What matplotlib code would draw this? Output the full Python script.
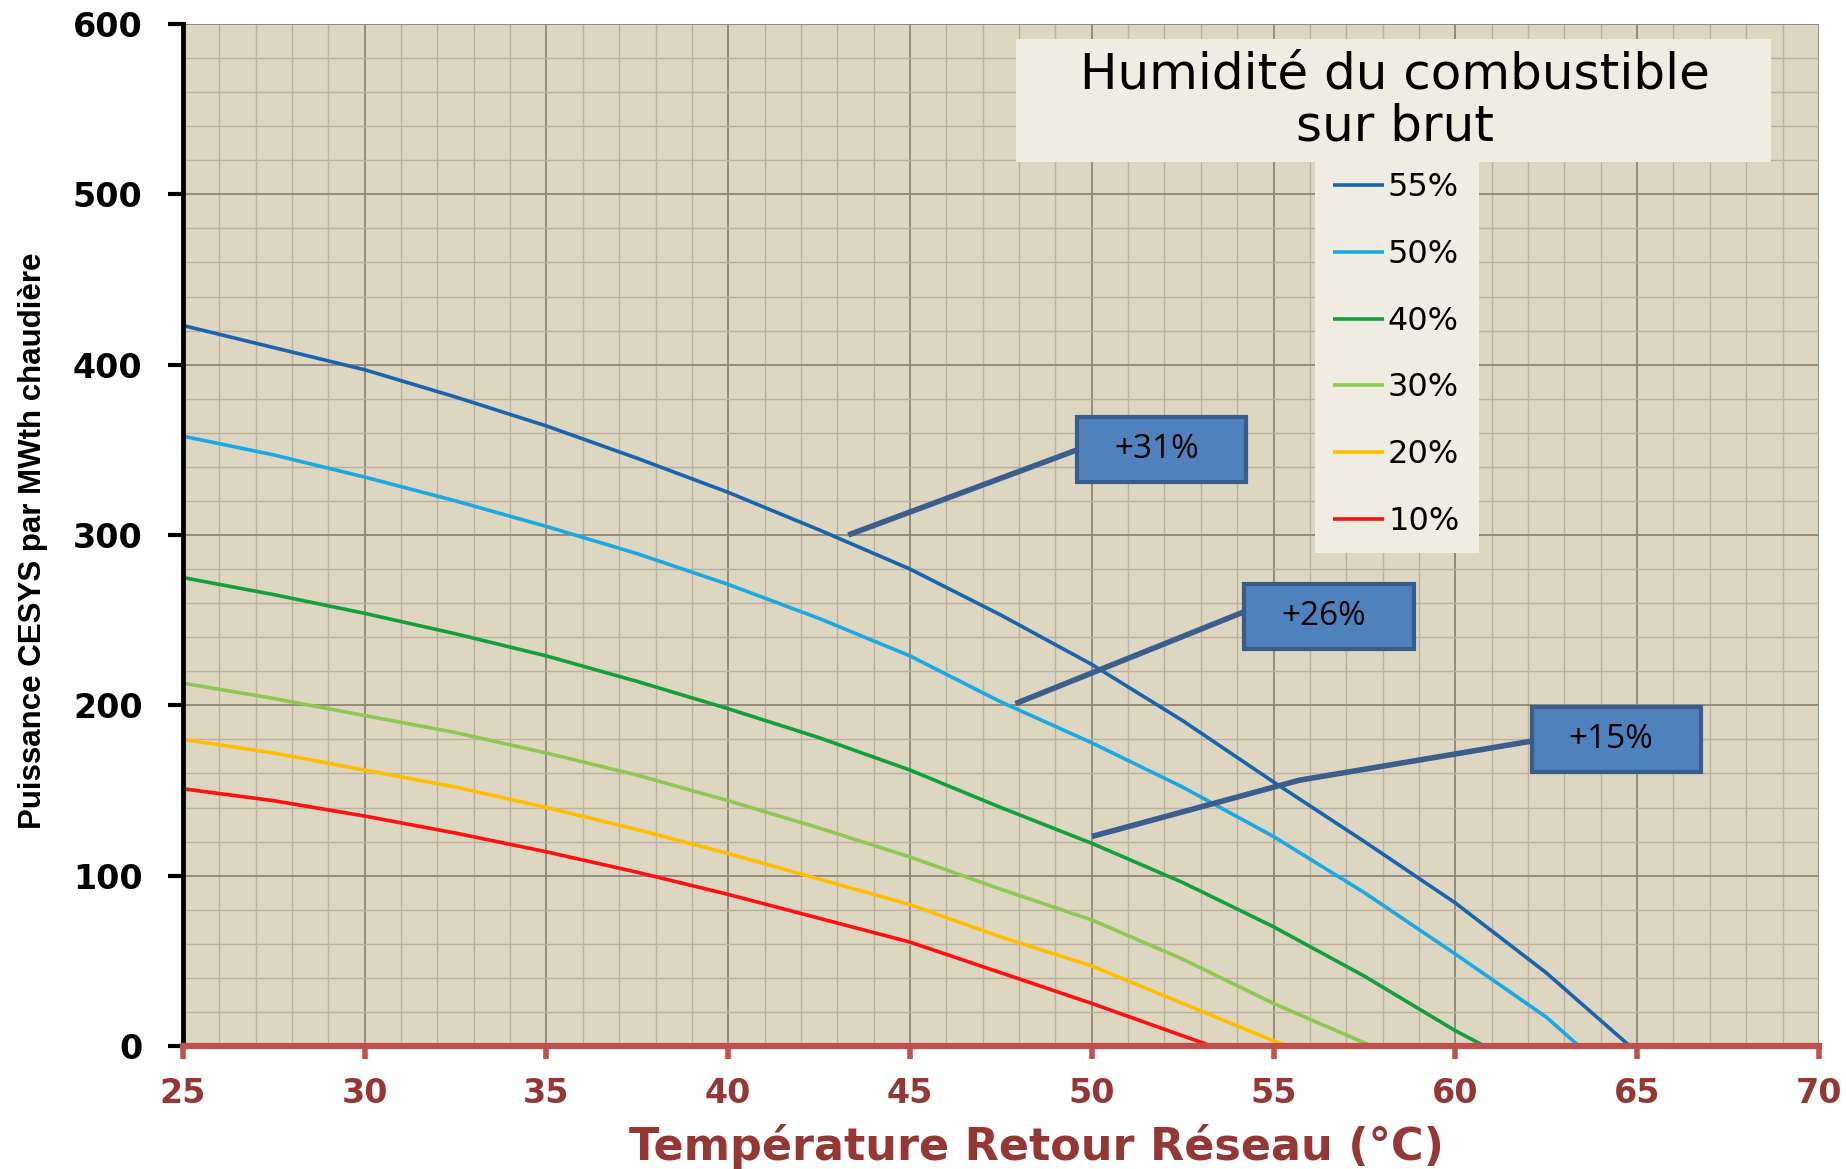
import matplotlib
matplotlib.use("Agg")
import matplotlib.pyplot as plt
from matplotlib.patches import Rectangle
from matplotlib.ticker import MultipleLocator
from matplotlib import font_manager

# humidity levels (legend labels) and curves
labels = ["55%", "50%", "40%", "30%", "20%", "10%"]
colors = ["#1A64AE", "#1BA9E3", "#12A03C", "#8DC853", "#FFBF00", "#FF1010"]

t_55 = [25, 27.5, 30, 32.5, 35, 37.5, 40, 42.5, 45, 47.5, 50, 52.5, 55, 57.5, 60, 62.5, 64.8]
p_55 = [423, 410, 397, 381, 364, 345, 325, 303, 280, 253, 224, 191, 155, 120, 84, 43, 0]

t_50 = [25, 27.5, 30, 32.5, 35, 37.5, 40, 42.5, 45, 47.5, 50, 52.5, 55, 57.5, 60, 62.5, 63.4]
p_50 = [358, 347, 334, 320, 305, 289, 271, 251, 229, 202, 178, 152, 123, 90, 54, 17, 0]

t_40 = [25, 27.5, 30, 32.5, 35, 37.5, 40, 42.5, 45, 47.5, 50, 52.5, 55, 57.5, 60, 60.8]
p_40 = [275, 265, 254, 242, 229, 214, 198, 181, 162, 140, 119, 96, 70, 41, 9, 0]

t_30 = [25, 27.5, 30, 32.5, 35, 37.5, 40, 42.5, 45, 47.5, 50, 52.5, 55, 57.7]
p_30 = [213, 204, 194, 184, 172, 159, 144, 128, 111, 92, 74, 51, 25, 0]

t_20 = [25, 27.5, 30, 32.5, 35, 37.5, 40, 42.5, 45, 47.5, 50, 52.5, 55, 55.4]
p_20 = [180, 172, 162, 152, 140, 127, 113, 98, 83, 64, 47, 25, 3, 0]

t_10 = [25, 27.5, 30, 32.5, 35, 37.5, 40, 42.5, 45, 47.5, 50, 52.5, 53.3]
p_10 = [151, 144, 135, 125, 114, 102, 89, 75, 61, 43, 25, 6, 0]

series_t = [t_55, t_50, t_40, t_30, t_20, t_10]
series_p = [p_55, p_50, p_40, p_30, p_20, p_10]

# callouts: text, connector path (data coords), box (x0, y0, w, h)
callout_text = ["+31%", "+26%", "+15%"]
callout_path_x = [[43.3, 49.6], [47.9, 54.2], [50.0, 55.7, 62.1]]
callout_path_y = [[300, 350], [201, 255], [123, 156, 179]]
callout_box = [(49.6, 331, 4.65, 38), (54.2, 233, 4.65, 38), (62.1, 161, 4.65, 38)]

fig = plt.figure(figsize=(18.46, 11.69), dpi=100)
fig.patch.set_facecolor("white")
ax = fig.add_axes([0.0991, 0.1052, 0.8862, 0.8743])
ax.set_facecolor("#DDD6C1")

for t, p, c, lab in zip(series_t, series_p, colors, labels):
    ax.plot(t, p, color=c, lw=2.6, label=lab, solid_capstyle="butt", zorder=3)

ax.set_xlim(25, 70)
ax.set_ylim(0, 600)
ax.xaxis.set_major_locator(MultipleLocator(5))
ax.xaxis.set_minor_locator(MultipleLocator(1))
ax.yaxis.set_major_locator(MultipleLocator(100))
ax.yaxis.set_minor_locator(MultipleLocator(20))
ax.set_axisbelow(True)
ax.grid(which="major", color="#8E8778", lw=1.3)
ax.grid(which="minor", color="#BAB29F", lw=1.0)

for s in ["top", "right"]:
    ax.spines[s].set_visible(False)
ax.spines["left"].set_color("black")
ax.spines["left"].set_linewidth(3.5)
ax.spines["left"].set_zorder(4)
ax.spines["bottom"].set_color("#C0504D")
ax.spines["bottom"].set_linewidth(4.5)
ax.spines["bottom"].set_zorder(4)

ax.tick_params(axis="x", which="major", color="#C0504D", length=9, width=4,
               labelcolor="#953735", pad=13, labelsize=24)
ax.tick_params(axis="y", which="major", color="black", length=11, width=3,
               labelcolor="black", pad=18, labelsize=24)
ax.tick_params(which="minor", length=0)
for lbl in ax.get_xticklabels() + ax.get_yticklabels():
    lbl.set_fontweight("bold")

ax.set_xlabel("Température Retour Réseau (°C)", fontsize=32, fontweight="bold",
              color="#953735")
ax.xaxis.set_label_coords(0.522, -0.076)

names = {f.name for f in font_manager.fontManager.ttflist}
if "Liberation Sans Narrow" in names:
    yfam, ysize = "Liberation Sans Narrow", 25
else:
    yfam, ysize = "Liberation Sans", 22.5
ax.set_ylabel("Puissance CESYS par MWth chaudière", fontsize=ysize,
              fontweight="bold", family=yfam, color="black")
ax.yaxis.set_label_coords(-0.0917, 0.494)
ax.yaxis.label.set_va("center")

# callouts
for txt, px, py, (bx, by, bw, bh) in zip(callout_text, callout_path_x,
                                         callout_path_y, callout_box):
    ax.plot(px, py, color="#3B5E8C", lw=4, solid_capstyle="butt", zorder=5)
    ax.add_patch(Rectangle((bx, by), bw, bh, facecolor="#4F81BD",
                           edgecolor="#385D8A", lw=3, zorder=6))
    ax.text(bx + bw / 2 - 0.15, by + bh / 2, txt, ha="center", va="center",
            fontsize=24, family="Open Sans", color="black", zorder=7)

# legend: title band and entries column
ax.add_patch(Rectangle((0.509, 0.865), 0.462, 0.120, transform=ax.transAxes,
                       facecolor="#EFECE1", edgecolor="none", zorder=8))
ax.add_patch(Rectangle((0.692, 0.482), 0.100, 0.384, transform=ax.transAxes,
                       facecolor="#EFECE1", edgecolor="none", zorder=8))
ax.text(0.741, 0.925, "Humidité du combustible\nsur brut", transform=ax.transAxes,
        ha="center", va="center", fontsize=36, linespacing=1.1, zorder=9)
leg = ax.legend(loc="upper left", bbox_to_anchor=(0.703, 0.855), frameon=False,
                fontsize=23, handlelength=1.6, handletextpad=0.12,
                labelspacing=1.12, borderpad=0, borderaxespad=0)
leg.set_zorder(10)
for line in leg.get_lines():
    line.set_linewidth(2.6)

fig.savefig("out.png", dpi=100, facecolor="white")
